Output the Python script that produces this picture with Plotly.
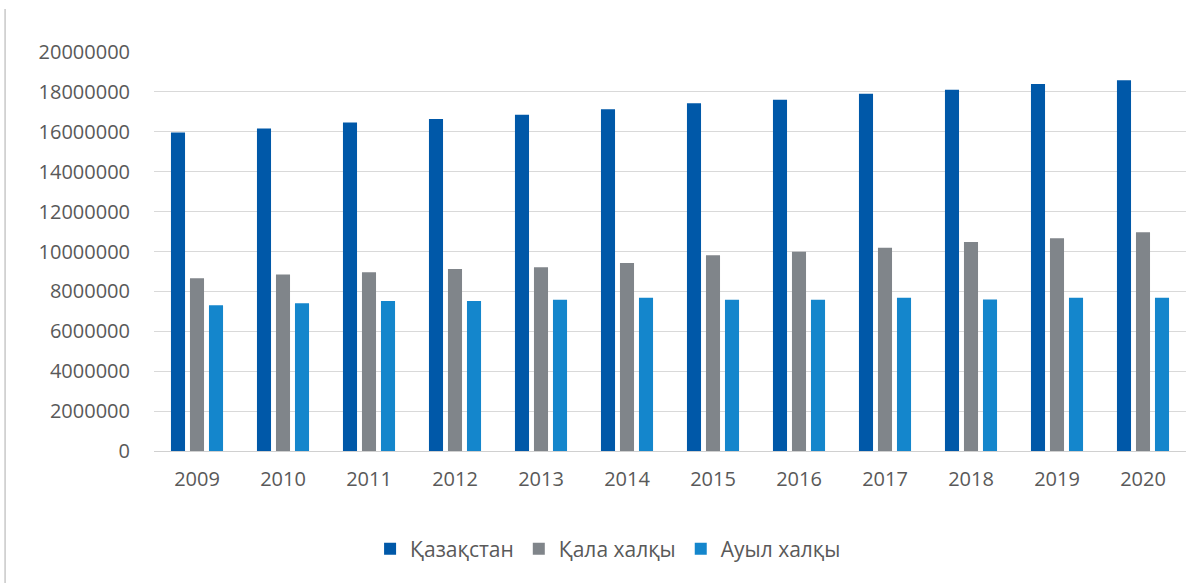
import plotly.graph_objects as go

years = ["2009", "2010", "2011", "2012", "2013", "2014", "2015", "2016", "2017", "2018", "2019", "2020"]
kazakhstan = [15970000, 16170000, 16470000, 16640000, 16860000, 17130000, 17430000, 17610000, 17910000, 18110000, 18400000, 18580000]
urban = [8660000, 8850000, 8960000, 9120000, 9210000, 9420000, 9810000, 9990000, 10190000, 10480000, 10660000, 10960000]
rural = [7300000, 7400000, 7520000, 7520000, 7580000, 7680000, 7580000, 7580000, 7680000, 7600000, 7680000, 7680000]
series_names = ["Қазақстан", "Қала халқы", "Ауыл халқы"]
colors = ["#0058a8", "#80858a", "#1486cc"]

fig = go.Figure()
for name, vals, col in zip(series_names, [kazakhstan, urban, rural], colors):
    fig.add_trace(go.Bar(x=years, y=vals, name=name, marker=dict(color=col, line=dict(width=0))))

font_family = "Open Sans, Noto Sans, sans-serif"
fig.update_layout(
    width=1191, height=583,
    margin=dict(l=154, r=5, t=52, b=132),
    paper_bgcolor="white", plot_bgcolor="white",
    barmode="group", bargap=0.337, bargroupgap=0.26,
    font=dict(family=font_family, size=20, color="#595959"),
    showlegend=True,
    legend=dict(orientation="h", x=0.44, xanchor="center", y=-0.246, yanchor="middle",
                font=dict(size=21, color="#595959"), itemclick=False),
    xaxis=dict(showline=True, linecolor="#d0d0d0", linewidth=1, ticks="", showgrid=False,
               tickfont=dict(size=20, color="#595959"), ticklabelstandoff=10),
    yaxis=dict(range=[0, 20000000], dtick=2000000, tickformat="d", showgrid=True,
               gridcolor="#d9d9d9", gridwidth=1, zeroline=False, showline=False, ticks="",
               tickfont=dict(size=20, color="#595959"), ticklabelstandoff=23),
    shapes=[dict(type="line", xref="paper", yref="paper", x0=-0.1443, x1=-0.1443, y0=1.108, y1=-0.35,
                 line=dict(color="#c8c8c8", width=1.5))],
)

fig.write_html("out.html", config={"displayModeBar": False},
               post_script="document.body.style.margin='0';")
